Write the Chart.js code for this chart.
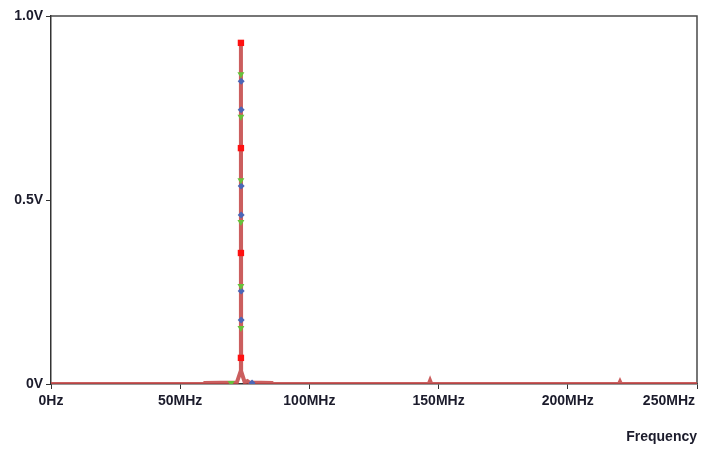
<!DOCTYPE html>
<html>
<head>
<meta charset="utf-8">
<script src="https://cdn.jsdelivr.net/npm/chart.js@4.4.0/dist/chart.umd.min.js"></script>
<style>
    html, body { margin: 0; padding: 0; background: #fff; }
    #wrap { width: 712px; height: 451px; }
</style>
</head>
<body>
<div id="wrap"><canvas id="spectrumChart"></canvas></div>
<script>
// spectrum trace (MHz, V)
const freqMHz = [0, 59.0, 59.5, 71.9, 73.42, 73.5, 73.58, 75.0, 76.0, 76.8, 85.5, 86.0,
                 146.2, 146.7, 147.2, 219.8, 220.2, 220.6, 250];
const volts   = [0, 0, 0.003, 0.004, 0.035, 0.927, 0.035, 0.004, 0.008, 0.004, 0.003, 0,
                 0, 0.009, 0, 0, 0.006, 0, 0];

// trace markers
const redFreq    = [73.5, 73.5, 73.5, 73.5];
const redVolts   = [0.927, 0.641, 0.356, 0.071];
const greenFreq  = [73.5, 73.5, 73.5, 73.5, 73.5, 73.5, 69.7];
const greenVolts = [0.842, 0.726, 0.554, 0.440, 0.266, 0.152, 0.003];
const blueFreq   = [73.6, 73.6, 73.6, 73.6, 73.6, 73.6, 77.8];
const blueVolts  = [0.823, 0.745, 0.538, 0.459, 0.253, 0.174, 0.003];

const xTicks = [0, 50, 100, 150, 200, 250];
const xTickLabels = ['0Hz', '50MHz', '100MHz', '150MHz', '200MHz', '250MHz'];
const yTicks = [0, 0.5, 1.0];
const yTickLabels = ['0V', '0.5V', '1.0V'];

const fontFamily = '"Liberation Sans", Arial, sans-serif';
const labelColor = '#1b1b2b';

function toPoints(xs, ys) {
    return xs.map((x, i) => ({ x: x, y: ys[i] }));
}

// box around the plot + x tick labels
const frameAndLabels = {
    id: 'frameAndLabels',
    beforeDatasetsDraw(chart) {
        const { ctx, chartArea } = chart;
        ctx.save();
        ctx.strokeStyle = '#4a4a4a';
        ctx.lineWidth = 1.5;
        ctx.beginPath();
        ctx.moveTo(chartArea.left, chartArea.top);
        ctx.lineTo(chartArea.right, chartArea.top);
        ctx.lineTo(chartArea.right, chartArea.bottom);
        ctx.stroke();
        ctx.restore();
    },
    afterDraw(chart) {
        const ctx = chart.ctx;
        const xs = chart.scales.x;
        ctx.save();
        ctx.font = 'bold 14px ' + fontFamily;
        ctx.fillStyle = labelColor;
        ctx.textBaseline = 'middle';
        xTicks.forEach((v, i) => {
            const px = xs.getPixelForValue(v);
            const last = i === xTicks.length - 1;
            ctx.textAlign = last ? 'right' : 'center';
            ctx.fillText(xTickLabels[i], last ? px - 2 : px, xs.top + 17);
        });
        ctx.restore();
    }
};

const ctx = document.getElementById('spectrumChart').getContext('2d');

new Chart(ctx, {
    type: 'line',
    data: {
        datasets: [
            {
                data: toPoints(redFreq, redVolts),
                showLine: false,
                pointStyle: 'rect',
                pointRadius: 4.5,
                backgroundColor: '#ff1010',
                borderColor: '#ff1010',
                borderWidth: 0,
                order: 1
            },
            {
                data: toPoints(greenFreq, greenVolts),
                showLine: false,
                pointStyle: 'triangle',
                rotation: 180,
                pointRadius: 4,
                backgroundColor: '#66c23a',
                borderColor: '#66c23a',
                borderWidth: 0,
                order: 1
            },
            {
                data: toPoints(blueFreq, blueVolts),
                showLine: false,
                pointStyle: 'rectRot',
                pointRadius: 3.5,
                backgroundColor: '#4a66b8',
                borderColor: '#4a66b8',
                borderWidth: 0,
                order: 1
            },
            {
                data: toPoints(freqMHz, volts),
                borderColor: 'rgba(196, 72, 72, 0.88)',
                borderWidth: 4,
                pointRadius: 0,
                tension: 0,
                fill: false,
                order: 2
            }
        ]
    },
    options: {
        responsive: true,
        maintainAspectRatio: false,
        animation: false,
        layout: {
            padding: { top: 16, right: 15, left: 0, bottom: 0 }
        },
        plugins: {
            legend: { display: false },
            tooltip: { enabled: false }
        },
        scales: {
            x: {
                type: 'linear',
                min: 0,
                max: 250,
                afterBuildTicks: scale => {
                    scale.ticks = xTicks.map(v => ({ value: v }));
                },
                afterFit: scale => { scale.height = 67; },
                ticks: { display: false },
                grid: {
                    drawOnChartArea: false,
                    drawTicks: true,
                    tickLength: 5,
                    color: '#333'
                },
                border: { color: '#333', width: 1.5 },
                title: {
                    display: true,
                    text: 'Frequency',
                    align: 'end',
                    color: labelColor,
                    font: { family: fontFamily, size: 14, weight: 'bold' },
                    padding: { top: 4, bottom: 5 }
                }
            },
            y: {
                min: 0,
                max: 1.0,
                afterBuildTicks: scale => {
                    scale.ticks = yTicks.map(v => ({ value: v }));
                },
                afterFit: scale => { scale.width = 51; },
                ticks: {
                    padding: 3,
                    color: labelColor,
                    font: { family: fontFamily, size: 14, weight: 'bold' },
                    callback: function (value, index) {
                        return yTickLabels[index];
                    }
                },
                grid: {
                    drawOnChartArea: false,
                    drawTicks: true,
                    tickLength: 5,
                    color: '#333'
                },
                border: { color: '#333', width: 1.5 }
            }
        }
    },
    plugins: [frameAndLabels]
});
</script>
</body>
</html>
